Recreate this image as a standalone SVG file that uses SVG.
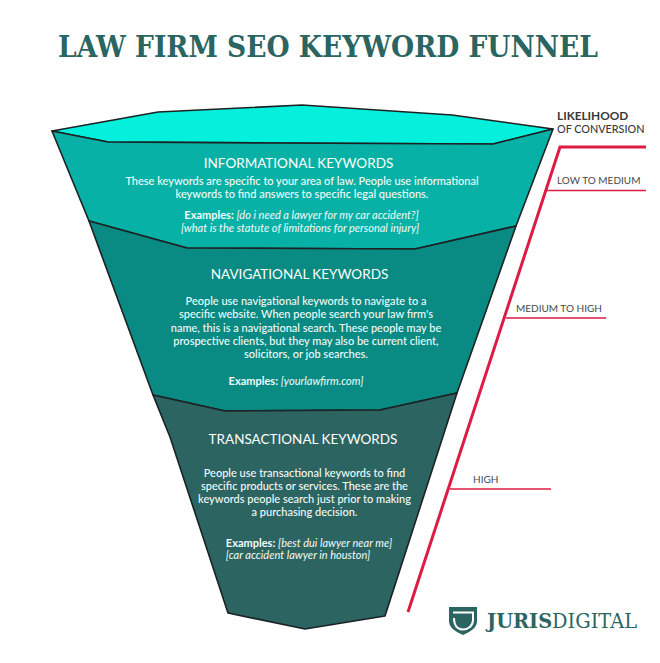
<svg xmlns="http://www.w3.org/2000/svg" width="660" height="663" viewBox="0 0 660 663">
<style>
text{font-family:"Lato","Noto Sans",sans-serif}
.w{fill:#f2fbfa;font-size:11px;text-anchor:middle;font-weight:500}
.h{fill:#fff;font-size:13.5px;text-anchor:middle}
.i{font-style:italic;font-weight:400}
.b{font-weight:700}
.o{stroke:#1c2224;stroke-width:1.6;stroke-linejoin:round}
.r{fill:none;stroke:#dc1c45;stroke-linejoin:miter}
.g{fill:#444a4c;font-size:10px}
.s{font-family:"DejaVu Serif","Liberation Serif",serif;fill:#2a6561}
</style>
<rect width="660" height="663" fill="#fff"/>
<text id="title" class="s" x="58" y="57" font-size="29" font-weight="700" textLength="540" lengthAdjust="spacingAndGlyphs">LAW FIRM SEO KEYWORD FUNNEL</text>
<g id="funnel-top"><polygon class="o" fill="#05f0dc" points="52,131 158,112 302,105 452,115 553,129 493,144 270,143 108,142"/></g>
<g id="informational">
<polygon class="o" fill="#08b1a5" points="52,131 108,142 270,143 493,144 553,129 516,226 415,249 187,248 89,221"/>
<text class="h" x="298.500" y="168">INFORMATIONAL KEYWORDS</text>
<text class="w" x="302" y="185">These keywords are specific to your area of law. People use informational</text>
<text class="w" x="302" y="198">keywords to find answers to specific legal questions.</text>
<text class="w" x="301.500" y="219"><tspan class="b">Examples:</tspan> <tspan class="i">[do i need a lawyer for my car accident?]</tspan></text>
<text class="w i" x="300" y="232">[what is the statute of limitations for personal injury]</text>
</g>
<g id="navigational">
<polygon class="o" fill="#098a82" points="89,221 187,248 415,249 516,226 457,393 380,410 225,411 153,395"/>
<text class="h" x="299.500" y="279">NAVIGATIONAL KEYWORDS</text>
<text class="w" x="306" y="305">People use navigational keywords to navigate to a</text>
<text class="w" x="306" y="318">specific website. When people search your law firm's</text>
<text class="w" x="306" y="332">name, this is a navigational search. These people may be</text>
<text class="w" x="306" y="345">prospective clients, but they may also be current client,</text>
<text class="w" x="306" y="358">solicitors, or job searches.</text>
<text class="w" x="296" y="385"><tspan class="b">Examples:</tspan> <tspan class="i">[yourlawfirm.com]</tspan></text>
</g>
<g id="transactional">
<polygon class="o" fill="#2c6461" points="153,395 225,411 380,410 457,393 385,616 305,629 228,613 170,437"/>
<text class="h" x="303" y="444">TRANSACTIONAL KEYWORDS</text>
<text class="w" x="304.500" y="477">People use transactional keywords to find</text>
<text class="w" x="304.500" y="490">specific products or services. These are the</text>
<text class="w" x="304.500" y="503">keywords people search just prior to making</text>
<text class="w" x="304.500" y="516">a purchasing decision.</text>
<text class="w" x="309" y="547"><tspan class="b">Examples:</tspan> <tspan class="i">[best dui lawyer near me]</tspan></text>
<text class="w i" x="298" y="559">[car accident lawyer in houston]</text>
</g>
<g id="connectors">
<path class="r" stroke-width="3" d="M646,147 H560 L408,612"/>
<path class="r" stroke-width="1.6" d="M546,190.500 H646"/>
<path class="r" stroke-width="1.6" d="M506,318 H606"/>
<path class="r" stroke-width="1.6" d="M450,489 H551"/>
</g>
<g id="legend">
<text x="557" y="120" fill="#35393b" font-size="11.800" font-weight="700">LIKELIHOOD</text>
<text x="557" y="133" fill="#35393b" font-size="10.800" font-weight="500">OF CONVERSION</text>
<text class="g" x="557" y="184">LOW TO MEDIUM</text>
<text class="g" x="516" y="312">MEDIUM TO HIGH</text>
<text class="g" x="473" y="483">HIGH</text>
</g>
<g id="logo">
<path fill="#2a6561" d="M449,607 H477 V621 C477,628 470,632 463,635 C456,632 449,628 449,621 Z"/>
<path fill="none" stroke="#fff" stroke-width="2" d="M453,612.500 H473 V620 C473,626 468,629.500 463,629.500 C458,629.500 454,626 454,618"/>
<text class="s" x="487" y="628" font-size="20.500" textLength="150" lengthAdjust="spacingAndGlyphs"><tspan font-weight="700">JURIS</tspan><tspan>DIGITAL</tspan></text>
</g>
</svg>
